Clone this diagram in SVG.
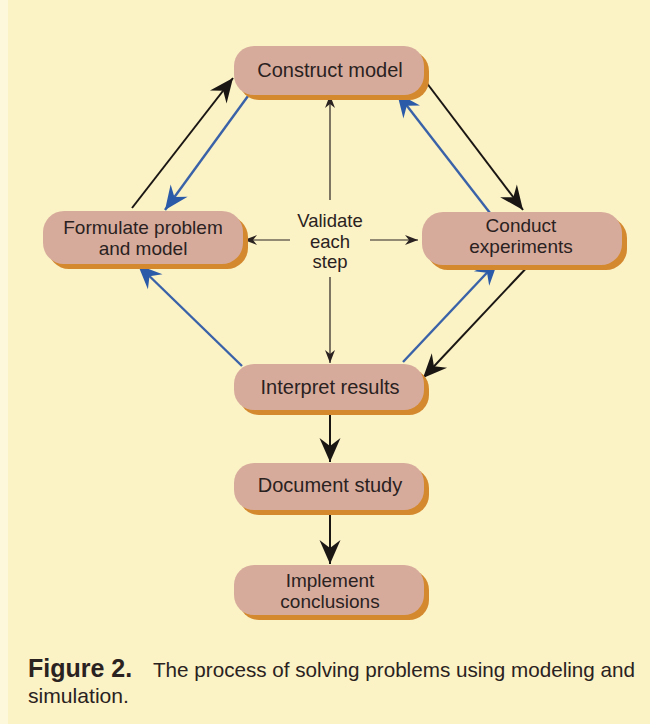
<svg xmlns="http://www.w3.org/2000/svg" width="650" height="724" viewBox="0 0 650 724">
<defs>
<style>
.bg{fill:#fbf2c5}
.shadow{fill:#d4892f}
.pill{fill:#d7ab9c}
.lbl{font-family:"Liberation Sans",Arial,sans-serif;font-size:20px;fill:#2a2221;text-anchor:middle}
.lbl2{font-family:"Liberation Sans",Arial,sans-serif;font-size:19px;fill:#2a2221;text-anchor:middle}
.val{font-family:"Liberation Sans",Arial,sans-serif;font-size:18.5px;fill:#2a2221;text-anchor:middle}
.blk{stroke:#1a1614;stroke-width:2;fill:none}
.blu{stroke:#3a62a8;stroke-width:2.4;fill:none}
.thin{stroke:#2a2221;stroke-width:1.2;fill:none}
.cap{font-family:"Liberation Sans",Arial,sans-serif;font-size:21px;fill:#2a2221}
.capb{font-family:"Liberation Sans",Arial,sans-serif;font-size:25px;font-weight:bold;fill:#2a2221}
</style>
<marker id="ahBlack" markerUnits="userSpaceOnUse" viewBox="-26 -12 28 24" refX="0" refY="0" markerWidth="28" markerHeight="24" orient="auto">
<path d="M0,0 L-24,-10.5 L-16,0 L-24,10.5 Z" fill="#1a1614"/>
</marker>
<marker id="ahBlue" markerUnits="userSpaceOnUse" viewBox="-26 -12 28 24" refX="0" refY="0" markerWidth="28" markerHeight="24" orient="auto">
<path d="M0,0 L-24,-10.5 L-16,0 L-24,10.5 Z" fill="#2a5aa8"/>
</marker>
<marker id="ahThin" markerUnits="userSpaceOnUse" viewBox="-14 -7 16 14" refX="0" refY="0" markerWidth="16" markerHeight="14" orient="auto">
<path d="M0,0 L-13,-5 L-9,0 L-13,5 Z" fill="#2a2221"/>
</marker>
</defs>
<rect class="bg" x="0" y="0" width="650" height="724"/>
<rect x="0" y="0" width="8" height="724" fill="#fdf8dc"/>

<g id="connectors">
<line class="blk" x1="132" y1="208" x2="233" y2="78" marker-end="url(#ahBlack)"/>
<line class="blu" x1="248" y1="96" x2="165" y2="210" marker-end="url(#ahBlue)"/>
<line class="blk" x1="426" y1="82" x2="523" y2="210" marker-end="url(#ahBlack)"/>
<line class="blu" x1="490" y1="213" x2="397" y2="93" marker-end="url(#ahBlue)"/>
<line class="blu" x1="242" y1="366" x2="138" y2="265" marker-end="url(#ahBlue)"/>
<line class="blu" x1="403" y1="362" x2="498" y2="261" marker-end="url(#ahBlue)"/>
<line class="blk" x1="532" y1="262" x2="423" y2="378" marker-end="url(#ahBlack)"/>
<line class="blk" x1="330" y1="411" x2="330" y2="462" marker-end="url(#ahBlack)"/>
<line class="blk" x1="330" y1="512" x2="330" y2="564" marker-end="url(#ahBlack)"/>
<line class="thin" x1="330" y1="200" x2="330" y2="95" marker-end="url(#ahThin)"/>
<line class="thin" x1="330" y1="277" x2="330" y2="363" marker-end="url(#ahThin)"/>
<line class="thin" x1="290" y1="240" x2="244" y2="240" marker-end="url(#ahThin)"/>
<line class="thin" x1="370" y1="240" x2="418" y2="240" marker-end="url(#ahThin)"/>
</g>

<g id="construct">
<rect class="shadow" x="239" y="51" width="190" height="49" rx="20"/>
<rect class="pill" x="234" y="46" width="190" height="49" rx="20"/>
<text class="lbl" x="330" y="77">Construct model</text>
</g>

<g id="formulate">
<rect class="shadow" x="48" y="216" width="200" height="53" rx="21"/>
<rect class="pill" x="43" y="211" width="200" height="53" rx="21"/>
<text class="lbl2" x="143" y="234">Formulate problem</text>
<text class="lbl2" x="143" y="255">and model</text>
</g>

<g id="conduct">
<rect class="shadow" x="427" y="217" width="200" height="53" rx="21"/>
<rect class="pill" x="422" y="212" width="200" height="53" rx="21"/>
<text class="lbl2" x="521" y="232">Conduct</text>
<text class="lbl2" x="521" y="253">experiments</text>
</g>

<g id="validate">
<text class="val" x="330" y="227">Validate</text>
<text class="val" x="330" y="248">each</text>
<text class="val" x="330" y="268">step</text>
</g>

<g id="interpret">
<rect class="shadow" x="239" y="369" width="190" height="46" rx="20"/>
<rect class="pill" x="234" y="364" width="190" height="46" rx="20"/>
<text class="lbl" x="330" y="394">Interpret results</text>
</g>

<g id="document">
<rect class="shadow" x="239" y="468" width="190" height="47" rx="20"/>
<rect class="pill" x="234" y="463" width="190" height="47" rx="20"/>
<text class="lbl" x="330" y="492">Document study</text>
</g>

<g id="implement">
<rect class="shadow" x="239" y="570" width="190" height="50" rx="20"/>
<rect class="pill" x="234" y="565" width="190" height="50" rx="20"/>
<text class="lbl2" x="330" y="587">Implement</text>
<text class="lbl2" x="330" y="608">conclusions</text>
</g>

<g id="caption">
<text class="capb" x="28" y="677">Figure 2.</text>
<text class="cap" x="153" y="677" textLength="482" lengthAdjust="spacingAndGlyphs">The process of solving problems using modeling and</text>
<text class="cap" x="28" y="703" textLength="101" lengthAdjust="spacingAndGlyphs">simulation.</text>
</g>
</svg>
